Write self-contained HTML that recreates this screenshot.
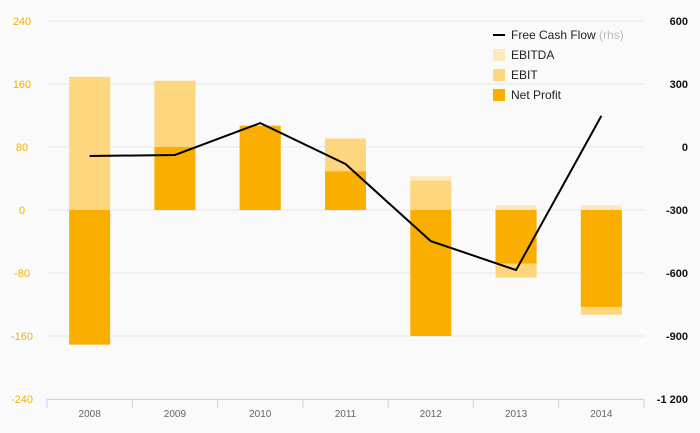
<!DOCTYPE html>
<html><head><meta charset="utf-8"><style>
body{margin:0;background:#fafafa;}
svg{display:block;font-family:"Liberation Sans",sans-serif;}
</style></head><body>
<svg id="c" width="700" height="433"></svg>
<script>
const categories=["2008","2009","2010","2011","2012","2013","2014"];
const ebitda=[169,164,107,92,43,6,6];
const ebit=[169,164,107,90,37,-86,-133];
const netProfit=[-171,80,107,49,-160,-68,-123];
const fcf=[-43,-38,114,-81,-448,-586,148];
const leftTicks=[-240,-160,-80,0,80,160,240];
const rightTicks=["-1 200","-900","-600","-300","0","300","600"];
const rightTickVals=[-1200,-900,-600,-300,0,300,600];
const svg=document.getElementById('c');const NS='http://www.w3.org/2000/svg';
const X0=47,X1=644,Y0=21,Y1=399;
const bw=(X1-X0)/categories.length;
const yL=v=>Y1-(v+240)/480*(Y1-Y0);
const yR=v=>Y1-(v+1200)/1800*(Y1-Y0);
const xc=i=>X0+bw*(i+0.5);
function el(t,a,txt){const e=document.createElementNS(NS,t);for(const k in a)e.setAttribute(k,a[k]);if(txt!=null)e.textContent=txt;svg.appendChild(e);return e;}
leftTicks.forEach((v,i)=>{
 const g=el('line',{x1:X0,x2:X1,y1:yL(v),y2:yL(v),stroke:'#e6e6e6'});
 
 const t=el('text',{x:22,y:yL(v)+4,'text-anchor':'middle','font-size':11,fill:'#f5b000'},v);
 
 const r=el('text',{x:688,y:yR(rightTickVals[i])+4,'text-anchor':'end','font-size':11,'font-weight':'bold',fill:'#111'},rightTicks[i]);
 
});
function bar(i,v,col,name){const y=Math.min(yL(0),yL(v));const h=Math.abs(yL(v)-yL(0));
 const r=el('rect',{x:xc(i)-20.5,y:y,width:41,height:h,fill:col});
 }
categories.forEach((c,i)=>{
 bar(i,ebitda[i],'#fde9bd','bar-ebitda-'+c);
 bar(i,ebit[i],'#fdd67e','bar-ebit-'+c);
 bar(i,netProfit[i],'#f9ae00','bar-net-profit-'+c);
 const t=el('text',{x:xc(i),y:417,'text-anchor':'middle','font-size':10,fill:'#666'},c);
 
});
const ax=el('line',{x1:X0,x2:X1,y1:Y1+0.5,y2:Y1+0.5,stroke:'#c9d3ea'});

for(let i=0;i<=categories.length;i++){const tk=el('line',{x1:X0+bw*i,x2:X0+bw*i,y1:Y1,y2:Y1+9,stroke:'#c9d3ea'});
 }
const ln=el('polyline',{points:fcf.map((v,i)=>xc(i)+','+yR(v)).join(' '),fill:'none',stroke:'#000','stroke-width':2});

const leg=[['line','Free Cash Flow','#000'],['sq','EBITDA','#fde9bd'],['sq','EBIT','#fdd67e'],['sq','Net Profit','#f9ae00']];
leg.forEach((l,i)=>{const y=35+i*20;
 if(l[0]=='line'){const m=el('line',{x1:493,x2:505,y1:y,y2:y,stroke:'#000','stroke-width':2});}
 else{const m=el('rect',{x:493,y:y-6,width:12,height:12,fill:l[2]});}
 const t=el('text',{x:511,y:y+4,'font-size':12,fill:'#222'},l[1]);
 
 if(i==0){const s=document.createElementNS(NS,'tspan');s.setAttribute('fill','#bbb');s.textContent=' (rhs)';t.appendChild(s);}
});
</script>
</body></html>
